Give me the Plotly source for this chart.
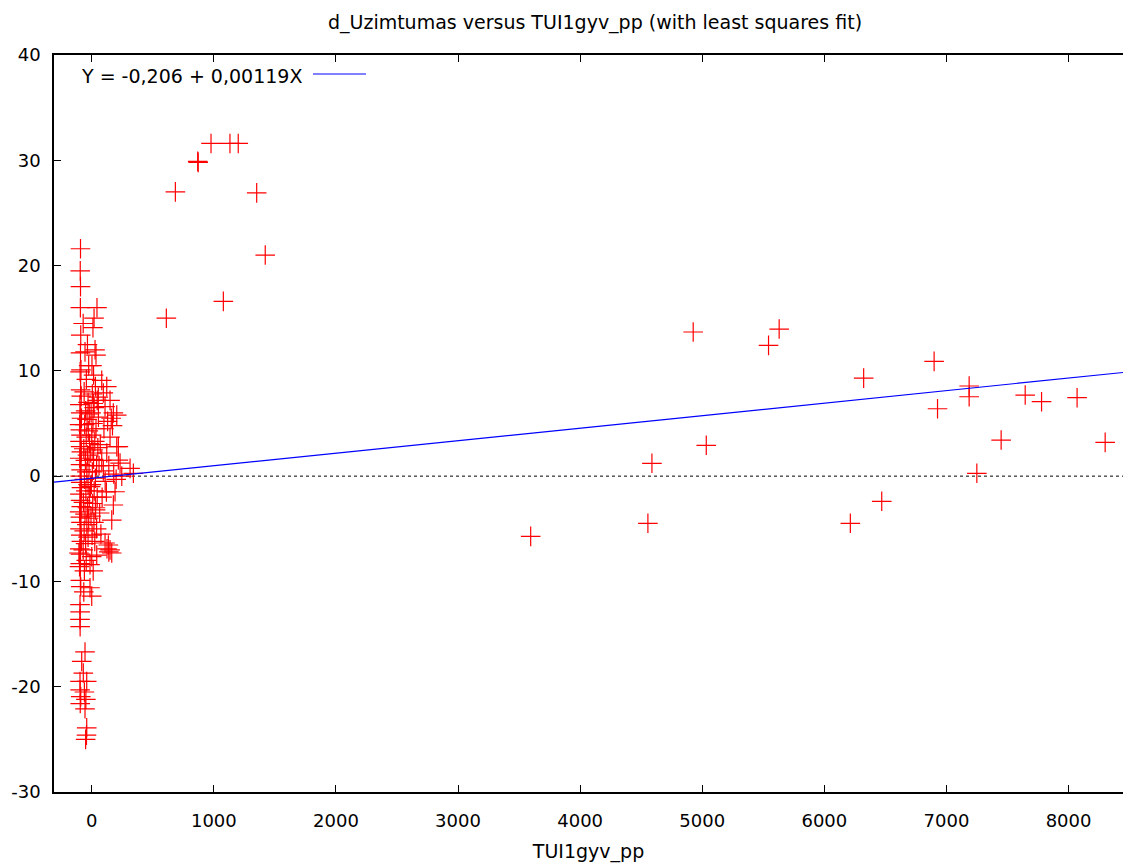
import plotly.graph_objects as go

# Far (large-x) observations
far_x = [977, 1132, 1200, 868, 872, 685, 1351, 1421, 1078, 611,
         3595, 4555, 4588, 4926, 5033, 5543, 5630, 6213, 6322, 6470,
         6899, 6927, 7186, 7186, 7249, 7448, 7645, 7779, 8070, 8300]
far_y = [31.6, 31.6, 31.6, 29.9, 29.8, 27.0, 26.9, 21.0, 16.6, 15.0,
         -5.72, -4.48, 1.22, 13.69, 2.93, 12.42, 13.97, -4.48, 9.31, -2.39,
         10.90, 6.40, 8.56, 7.54, 0.27, 3.43, 7.70, 7.07, 7.45, 3.21]

# Dense cluster near zero
cluster_x = [
    -92, -94, -92, -93, -90, -92, -88, -95, -91, -86, -97, -90, -84, -99, -93, -88, -96, -91, -85, -98,
    -92, -87, -95, -90, -84, -97, -91, -86, -99, -93, -88, -96, -90, -85, -98, -92, -105, -94, -100, -93,
    -90, -96, -95, -96, -95, -82, -96, -95, -90, -94, -69,
    -55, -41, -55, -41, -43, -50, -60, -48, -14, 0, -14, -60, -65, -45, -70, -50, -30, -62, -40, -25,
    -55, -35, -68, -20, -48, -30, -60, -40, -22, -52, -35, -65, -18, -45, -28, -58, -38, -20, -50, -30,
    -62, -44, -25, -55, -35, -70,
    43, 19, 10, 27, 35, 2, 15, 30, 5, 45, 20, -5, 55, 10, 35, 0, 25, 50, -8, 15,
    40, 5, 30, -3, 20, 45, 8, 32, -6, 18, 40, 3, 25, 0, 41, 12, 30, -10, 10,
    82, 123, 95, 150, 205, 177, 109, 54, 13, 218, 150, 123, 82, 314, 341, 246, 232, 191, 177, 164,
    136, 164, 109, 125, 150, 140, 205, 218, 100, 130, 160, 170, 70, 95, 110, 85, 65, 75, 60, 140,
    180, 120, 200,
]
cluster_y = [
    21.6, 19.5, 18.0, 16.0, 13.4, 11.7, 10.1, 9.9, 8.2, 7.6, 6.8, 6.0, 5.5, 4.9, 4.4, 3.9, 3.3, 2.8, 2.3, 1.7,
    1.1, 0.6, 0.0, -0.6, -1.1, -1.7, -2.3, -2.9, -3.4, -3.9, -4.4, -5.0, -5.6, -6.2, -6.9, -7.4, -7.3, -8.3, -8.6, -9.9,
    -10.5, -12.2, -12.9, -13.6, -14.3, -17.6, -19.5, -20.3, -20.95, -21.6, -18.7,
    -16.7, -19.5, -22.1, -23.9, -24.6, -25.0, -20.5, -21.2, -10.6, -11.4, -8.4, -9.0, -11.0, -8.0, -7.0, -6.4, -5.8, -5.2, -4.6, -4.0,
    -3.6, -3.0, -2.5, -2.0, -1.4, -0.8, -0.3, 0.4, 1.0, 1.5, 2.0, 2.6, 3.1, 3.7, 4.3, 4.9, 5.4, 5.9, 6.2, 7.0,
    8.0, 9.2, 10.5, 11.8, 12.5, 14.5,
    16.0, 15.0, 14.1, 12.0, 11.5, 10.5, 9.6, 8.5, 7.8, 7.2, 6.5, 6.0, 5.6, 5.0, 4.5, 3.9, 3.3, 2.7, 2.2, 1.6,
    1.0, 0.4, -0.2, -0.8, -1.4, -2.0, -2.6, -3.2, -3.8, -4.4, -5.0, -5.6, -6.2, -7.65, -7.5, -9.0, -3.0, -1.0, 2.5,
    9.1, 8.5, 7.9, 7.2, 5.8, 6.0, 6.6, 7.5, 6.9, 2.8, 3.7, 2.2, 1.5, 0.74, 0.27, 0.0, 1.24, -1.48, -2.74, -4.17,
    -6.54, -7.3, -6.35, -6.9, -7.0, -7.2, 2.79, 1.53, 4.5, 5.2, 5.5, 4.8, 3.0, 0.5, -0.5, -2.0, -3.5, -5.5, 1.0, 1.0,
    0.2, -1.5, -0.3,
]

fit_intercept = -0.206
fit_slope = 0.00119
fit_label = "Y = -0,206 + 0,00119X"

x_range = [-309, 8446]
y_range = [-30, 40]
x_ticks = [0, 1000, 2000, 3000, 4000, 5000, 6000, 7000, 8000]
y_ticks = [-30, -20, -10, 0, 10, 20, 30, 40]

title_text = "d_Uzimtumas versus TUI1gyv_pp (with least squares fit)"
x_title = "TUI1gyv_pp"

FONT = "DejaVu Sans"
L, T, PW, PH = 54, 55, 1069, 737

xs = cluster_x + far_x
ys = cluster_y + far_y

fig = go.Figure()

# zero reference line (dotted)
fig.add_trace(go.Scatter(
    x=x_range, y=[0, 0], mode="lines",
    line=dict(color="black", width=1, dash="dot"),
    hoverinfo="skip", showlegend=False))

fig.add_trace(go.Scatter(
    x=xs, y=ys, mode="markers",
    marker=dict(symbol="cross-thin", size=14,
                line=dict(color="#ff0000", width=1.2), color="#ff0000"),
    showlegend=False))

fit_x = x_range
fit_y = [fit_intercept + fit_slope * v for v in fit_x]
fig.add_trace(go.Scatter(
    x=fit_x, y=fit_y, mode="lines",
    line=dict(color="#0000ff", width=1.2),
    showlegend=False))

# legend-style key (text then line sample, gnuplot-like)
fig.add_annotation(xref="paper", yref="paper", x=(79 - L) / PW, y=(T + PH - 76) / PH,
                   text=fit_label, showarrow=False, xanchor="left", yanchor="middle",
                   font=dict(family=FONT, size=19, color="black"))
fig.add_shape(type="line", xref="paper", yref="paper",
              x0=(313 - L) / PW, x1=(366 - L) / PW,
              y0=(T + PH - 74) / PH, y1=(T + PH - 74) / PH,
              line=dict(color="#0000ff", width=1.2))

fig.update_layout(
    width=1123, height=868,
    margin=dict(l=L, r=1123 - L - PW, t=T, b=868 - T - PH, autoexpand=False),
    paper_bgcolor="white", plot_bgcolor="white",
    font=dict(family=FONT, size=18, color="black"),
    title=dict(text=title_text, x=595 / 1123, xref="container", xanchor="center",
               y=1 - 22 / 868, yref="container", yanchor="middle",
               font=dict(family=FONT, size=19, color="black")),
    showlegend=False,
)

fig.update_xaxes(
    range=x_range, tickvals=x_ticks, ticktext=[str(v) for v in x_ticks],
    ticks="inside", ticklen=7, tickwidth=1, tickcolor="black",
    showline=True, linecolor="black", linewidth=1.5, mirror="ticks",
    showgrid=False, zeroline=False, automargin=False,
    ticklabelstandoff=12,
    tickfont=dict(family=FONT, size=18),
    title=dict(text=x_title, font=dict(family=FONT, size=19), standoff=14),
)
fig.update_yaxes(
    range=y_range, tickvals=y_ticks, ticktext=[str(v) for v in y_ticks],
    ticks="inside", ticklen=7, tickwidth=1, tickcolor="black",
    showline=True, linecolor="black", linewidth=1.5,
    showgrid=False, zeroline=False, automargin=False,
    ticklabelstandoff=8,
    tickfont=dict(family=FONT, size=18),
)

fig.write_html(
    "out.html",
    config={"displayModeBar": False},
    post_script="document.body.style.margin='0';document.body.style.overflow='hidden';",
)
